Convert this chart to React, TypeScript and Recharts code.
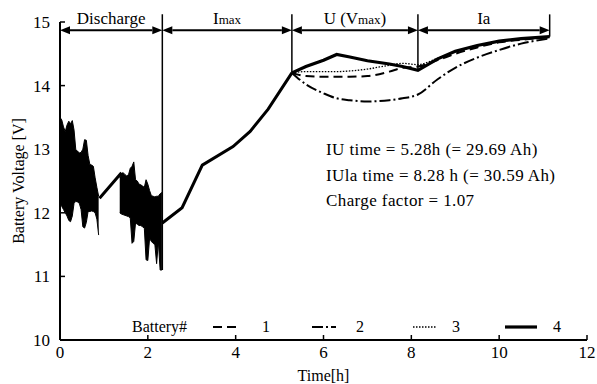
import React from "react";
import { ComposedChart, Line, Area, XAxis, YAxis, ReferenceLine } from "recharts";

const serif = "'Liberation Serif', 'Times New Roman', serif";

const xTicks = [0, 2, 4, 6, 8, 10, 12];
const yTicks = [10, 11, 12, 13, 14, 15];

// Discharge: the four batteries overlap into a dense black band (two bursts)
const burst1Time = [0, 0.04, 0.08, 0.12, 0.16, 0.2, 0.24, 0.28, 0.32, 0.36, 0.4, 0.44, 0.48, 0.52, 0.56, 0.6, 0.64, 0.68, 0.72, 0.76, 0.8, 0.84, 0.88];
const burst1High = [13.5, 13.46, 13.35, 13.28, 13.38, 13.44, 13.4, 13.45, 13.3, 12.99, 12.97, 12.94, 12.95, 13.0, 13.15, 13.14, 12.9, 12.76, 12.75, 12.73, 12.55, 12.4, 12.26];
const burst1Low = [12.15, 12.1, 12.05, 12.0, 11.95, 11.88, 11.86, 11.95, 12.15, 12.18, 12.17, 12.15, 12.05, 11.78, 11.76, 11.85, 12.02, 12.02, 12.03, 12.02, 12.0, 11.9, 11.65];

const burst2Time = [1.36, 1.4, 1.44, 1.48, 1.52, 1.56, 1.6, 1.64, 1.68, 1.72, 1.76, 1.8, 1.84, 1.88, 1.92, 1.96, 2.0, 2.04, 2.08, 2.12, 2.16, 2.2, 2.24, 2.28, 2.32];
const burst2High = [12.55, 12.62, 12.63, 12.6, 12.58, 12.6, 12.7, 12.73, 12.8, 12.52, 12.5, 12.45, 12.44, 12.42, 12.4, 12.52, 12.45, 12.35, 12.27, 12.26, 12.25, 12.26, 12.26, 12.3, 12.32];
const burst2Low = [12.0, 11.98, 11.97, 11.96, 11.95, 11.94, 11.92, 11.52, 11.55, 11.84, 11.82, 11.8, 11.8, 11.78, 11.76, 11.26, 11.25, 11.6, 11.55, 11.52, 11.5, 11.2, 11.55, 11.1, 11.1];

// single trace shared by all batteries (rest gap + Imax phase)
const commonTime = [0.9, 1.4, 1.8, 2.33, 2.78, 3.24, 3.94, 4.33, 4.74, 5.28];
const commonVolt = [12.23, 12.63, null, 11.84, 12.08, 12.75, 13.04, 13.28, 13.63, 14.2];

// U (Vmax) and Ia phases per battery
const chargeTime = [5.28, 5.6, 6.0, 6.3, 6.6, 7.0, 7.5, 7.8, 8.15, 8.6, 9.0, 9.5, 10.0, 10.5, 11.15];
const battery1 = [14.2, 14.15, 14.14, 14.14, 14.14, 14.15, 14.22, 14.28, 14.3, 14.4, 14.5, 14.6, 14.68, 14.72, 14.76];
const battery2 = [14.2, 14.02, 13.88, 13.8, 13.77, 13.75, 13.77, 13.8, 13.86, 14.1, 14.28, 14.44, 14.56, 14.66, 14.74];
const battery3 = [14.2, 14.22, 14.22, 14.22, 14.23, 14.26, 14.32, 14.35, 14.33, 14.43, 14.53, 14.62, 14.69, 14.73, 14.77];
const battery4 = [14.2, 14.3, 14.4, 14.49, 14.45, 14.39, 14.34, 14.3, 14.24, 14.42, 14.54, 14.63, 14.7, 14.74, 14.77];

const batteryNames = ["1", "2", "3", "4"];
const batteryValues = [battery1, battery2, battery3, battery4];
const batteryStyles = [
  { dash: "9 5", width: 2 },
  { dash: "11 3 2 3", width: 2 },
  { dash: "1.5 1.5", width: 1.3 },
  { dash: undefined, width: 3.2 },
];

// phase markers
const phaseEdges = [0, 2.33, 5.28, 8.15, 11.15];
const edgeBottoms = [10, 11.1, 14.2, 14.24, 14.77];
const phaseLabels = [
  { main: "Discharge" },
  { main: "I", sub: "max" },
  { main: "U (V", sub: "max", tail: ")" },
  { main: "Ia" },
];
const arrowLevel = 14.87;
const edgeTop = 15.12;

const notes = ["IU time = 5.28h (= 29.69 Ah)", "IUla time = 8.28 h (= 30.59 Ah)", "Charge factor = 1.07"];

const rows = (t: number[], v: (number | null)[]) => t.map((x, i) => ({ t: x, v: v[i] }));
const band = (t: number[], lo: number[], hi: number[]) => t.map((x, i) => ({ t: x, band: [lo[i], hi[i]] }));

const arrowShape = (lab: { main: string; sub?: string; tail?: string }) => (p: any) => {
  const { x1, x2, y1 } = p;
  const h = 10;
  const w = 4;
  return (
    <g>
      <line x1={x1 + h} x2={x2 - h} y1={y1} y2={y1} stroke="#000" strokeWidth={2} />
      <polygon points={`${x1},${y1} ${x1 + h},${y1 - w} ${x1 + h},${y1 + w}`} fill="#000" />
      <polygon points={`${x2},${y1} ${x2 - h},${y1 - w} ${x2 - h},${y1 + w}`} fill="#000" />
      <text x={(x1 + x2) / 2} y={y1 - 6} textAnchor="middle" fontFamily={serif} fontSize={17} fill="#000">
        {lab.main}
        {lab.sub ? <tspan fontSize={13}>{lab.sub}</tspan> : null}
        {lab.tail ?? null}
      </text>
    </g>
  );
};

export default function App() {
  return (
    <div style={{ position: "absolute", left: 0, top: 0, width: 597, height: 384, background: "#fff" }}>
      <ComposedChart width={597} height={384} margin={{ top: 22, right: 10, bottom: 0, left: 0 }}>
        <XAxis
          dataKey="t"
          type="number"
          domain={[0, 12]}
          ticks={xTicks}
          height={44}
          axisLine={{ stroke: "#000", strokeWidth: 2 }}
          tickLine={{ stroke: "#000", strokeWidth: 1.5 }}
          tickSize={-5}
          tickMargin={11}
          tick={{ fill: "#000", fontSize: 17, fontFamily: serif }}
          label={{ value: "Time[h]", position: "insideBottom", offset: 3, fill: "#000", fontSize: 16, fontFamily: serif }}
        />
        <YAxis
          type="number"
          domain={[10, 15]}
          ticks={yTicks}
          width={60}
          axisLine={{ stroke: "#000", strokeWidth: 2 }}
          tickLine={{ stroke: "#000", strokeWidth: 1.5 }}
          tickSize={-5}
          tickMargin={15}
          tick={{ fill: "#000", fontSize: 17, fontFamily: serif }}
          label={{
            content: (props: any) => {
              const vb = props.viewBox;
              const cx = vb.x + 18;
              const cy = vb.y + vb.height / 2;
              return (
                <text x={cx} y={cy} transform={`rotate(-90 ${cx} ${cy})`} textAnchor="middle" dominantBaseline="central" fontFamily={serif} fontSize={16} fill="#000">
                  Battery Voltage [V]
                </text>
              );
            },
          }}
        />

        <Area data={band(burst1Time, burst1Low, burst1High)} dataKey="band" type="linear" stroke="#000" strokeWidth={1} fill="#000" fillOpacity={1} isAnimationActive={false} legendType="none" />
        <Area data={band(burst2Time, burst2Low, burst2High)} dataKey="band" type="linear" stroke="#000" strokeWidth={1} fill="#000" fillOpacity={1} isAnimationActive={false} legendType="none" />
        <Line data={rows(commonTime, commonVolt)} dataKey="v" type="linear" stroke="#000" strokeWidth={3} dot={false} isAnimationActive={false} legendType="none" />

        {batteryNames.map((n, i) => (
          <Line
            key={n}
            name={n}
            data={rows(chargeTime, batteryValues[i])}
            dataKey="v"
            type={i === 3 ? "linear" : "monotone"}
            stroke="#000"
            strokeWidth={batteryStyles[i].width}
            strokeDasharray={batteryStyles[i].dash}
            dot={false}
            isAnimationActive={false}
          />
        ))}

        {phaseEdges.slice(1).map((e, i) => (
          <ReferenceLine
            key={"edge" + i}
            segment={[{ x: e, y: edgeTop }, { x: e, y: edgeBottoms[i + 1] }]}
            stroke="#000"
            strokeWidth={1.5}
            ifOverflow="visible"
          />
        ))}
        {phaseLabels.map((lab, i) => (
          <ReferenceLine
            key={"arrow" + i}
            segment={[{ x: phaseEdges[i], y: arrowLevel }, { x: phaseEdges[i + 1], y: arrowLevel }]}
            ifOverflow="visible"
            shape={arrowShape(lab)}
          />
        ))}
      </ComposedChart>

      {notes.map((s, i) => (
        <div
          key={s}
          style={{ position: "absolute", left: 326, top: 140 + i * 25.5, fontFamily: serif, fontSize: 17, letterSpacing: 0.4, lineHeight: "20px", whiteSpace: "nowrap", color: "#000" }}
        >
          {s}
        </div>
      ))}

      <svg style={{ position: "absolute", left: 0, top: 314 }} width={597} height={26}>
        <text x={132} y={18} fontFamily={serif} fontSize={16} fill="#000">Battery#</text>
        {batteryNames.map((n, i) => {
          const x0 = [213, 312, 413, 505][i];
          const x1 = [237, 336, 437, 537][i];
          const lx = [262, 356, 452, 553][i];
          return (
            <g key={n}>
              <line x1={x0} x2={x1} y1={13} y2={13} stroke="#000" strokeWidth={batteryStyles[i].width} strokeDasharray={batteryStyles[i].dash} />
              <text x={lx} y={18} fontFamily={serif} fontSize={16} fill="#000">{n}</text>
            </g>
          );
        })}
      </svg>
    </div>
  );
}
